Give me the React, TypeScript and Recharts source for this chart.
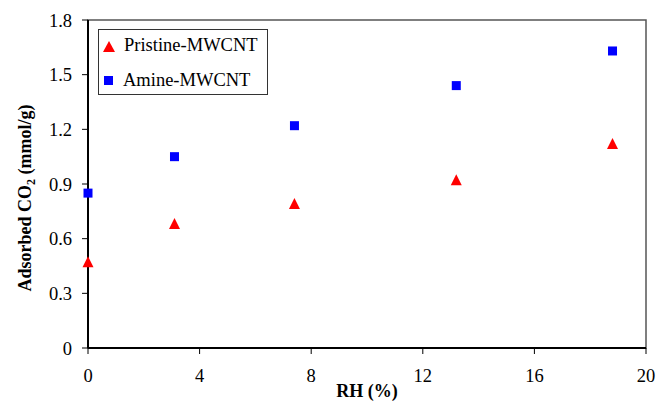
import React from "react"
import {
  ScatterChart,
  Scatter,
  XAxis,
  YAxis,
  Legend,
  ReferenceArea,
} from "recharts"

const rh = [0, 3.1, 7.4, 13.2, 18.8]
const pristine = [0.47, 0.68, 0.79, 0.92, 1.12]
const amine = [0.85, 1.05, 1.22, 1.44, 1.63]
const xTicks = [0, 4, 8, 12, 16, 20]
const yTicks = [0, 0.3, 0.6, 0.9, 1.2, 1.5, 1.8]

const pristineData = rh.map((x, i) => ({ x, y: pristine[i] }))
const amineData = rh.map((x, i) => ({ x, y: amine[i] }))

const font = '"Liberation Serif", "Times New Roman", serif'

const Triangle = (props: any) => {
  const { cx, cy } = props
  return (
    <polygon
      points={`${cx},${cy - 6} ${cx - 5.5},${cy + 5} ${cx + 5.5},${cy + 5}`}
      fill="#ff0000"
    />
  )
}

const Square = (props: any) => {
  const { cx, cy } = props
  return <rect x={cx - 4.5} y={cy - 4.5} width={9} height={9} fill="#0000ff" />
}

const LegendBox = () => (
  <div
    style={{
      width: 170,
      height: 66,
      boxSizing: "border-box",
      border: "1px solid #333",
      background: "#fff",
      fontFamily: font,
      fontSize: 18.5,
      lineHeight: 1.15,
      color: "#000",
      position: "relative",
    }}
  >
    <svg width={12} height={12} style={{ position: "absolute", left: 4, top: 11 }}>
      <polygon points="6,0 0,11 12,11" fill="#ff0000" />
    </svg>
    <span style={{ position: "absolute", left: 25, top: 5, whiteSpace: "nowrap" }}>
      Pristine-MWCNT
    </span>
    <svg width={10} height={10} style={{ position: "absolute", left: 5, top: 46 }}>
      <rect width={9} height={9} fill="#0000ff" />
    </svg>
    <span style={{ position: "absolute", left: 24, top: 40, whiteSpace: "nowrap" }}>
      Amine-MWCNT
    </span>
  </div>
)

export default function App() {
  return (
    <div style={{ position: "absolute", left: 0, top: 0, background: "#fff" }}>
      <ScatterChart
        width={658}
        height={401}
        margin={{ top: 20, right: 12, bottom: 0, left: 0 }}
      >
        <ReferenceArea
          x1={0}
          x2={20}
          y1={0}
          y2={1.8}
          fill="none"
          stroke="#555"
          strokeWidth={1.5}
          ifOverflow="visible"
        />
        <XAxis
          type="number"
          dataKey="x"
          domain={[0, 20]}
          ticks={xTicks}
          height={53}
          axisLine={{ stroke: "#000", strokeWidth: 2 }}
          tickLine={{ stroke: "#000" }}
          tickSize={6}
          tickMargin={15}
          tick={{ fill: "#000", fontSize: 18.5, fontFamily: font }}
          label={{
            content: () => (
              <text
                x={367}
                y={397}
                textAnchor="middle"
                fontFamily={font}
                fontWeight="bold"
                fontSize={18}
                fill="#000"
              >
                RH (%)
              </text>
            ),
          }}
        />
        <YAxis
          type="number"
          dataKey="y"
          domain={[0, 1.8]}
          ticks={yTicks}
          width={88}
          axisLine={{ stroke: "#000", strokeWidth: 2 }}
          tickLine={{ stroke: "#000" }}
          tickSize={6}
          tickMargin={10}
          tick={{ fill: "#000", fontSize: 18.5, fontFamily: font }}
          label={{
            content: () => (
              <text
                x={31}
                y={198}
                transform="rotate(-90, 31, 198)"
                textAnchor="middle"
                fontFamily={font}
                fontWeight="bold"
                fontSize={18}
                fill="#000"
              >
                <tspan>Adsorbed CO</tspan>
                <tspan dy={4} fontSize={12}>2</tspan>
                <tspan dy={-4}> (mmol/g)</tspan>
              </text>
            ),
          }}
        />
        <Legend
          layout="horizontal"
          verticalAlign="middle"
          align="center"
          wrapperStyle={{ left: 98, top: 29, width: 170, height: 66 }}
          content={() => <LegendBox />}
        />
        <Scatter
          name="Pristine-MWCNT"
          data={pristineData}
          shape={Triangle}
          isAnimationActive={false}
        />
        <Scatter
          name="Amine-MWCNT"
          data={amineData}
          shape={Square}
          isAnimationActive={false}
        />
      </ScatterChart>
    </div>
  )
}
